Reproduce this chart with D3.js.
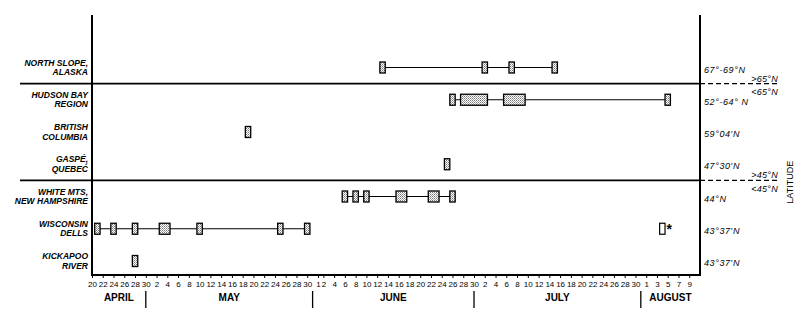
<!DOCTYPE html>
<html>
<head>
<meta charset="utf-8">
<script src="https://cdn.jsdelivr.net/npm/d3@7"></script>
<style>
  html, body { margin: 0; padding: 0; background: #fff; }
  svg { display: block; font-family: "Liberation Sans", Arial, sans-serif; }
</style>
</head>
<body>
<script>
// ---------------- DATA ----------------
const siteNames = [
  ["NORTH SLOPE,", "ALASKA"],
  ["HUDSON BAY", "REGION"],
  ["BRITISH", "COLUMBIA"],
  ["GASPÉ,", "QUEBEĆ"],
  ["WHITE MTS,", "NEW HAMPSHIRE"],
  ["WISCONSIN", "DELLS"],
  ["KICKAPOO", "RIVER"]
];
const latitudes = ["67°-69°N", "52°-64° N", "59°04′N", "47°30′N", "44°N", "43°37′N", "43°37′N"];

// observation periods [first day, last day] (month-day)
const northSlope      = [["06-13","06-13"],["07-02","07-02"],["07-07","07-07"],["07-15","07-15"]];
const hudsonBay       = [["06-26","06-26"],["06-28","07-02"],["07-06","07-09"],["08-05","08-05"]];
const britishColumbia = [["05-19","05-19"]];
const gaspeQuebec     = [["06-25","06-25"]];
const whiteMts        = [["06-06","06-06"],["06-08","06-08"],["06-10","06-10"],["06-16","06-17"],["06-22","06-23"],["06-26","06-26"]];
const wisconsinDells  = [["04-21","04-21"],["04-24","04-24"],["04-28","04-28"],["05-03","05-04"],["05-10","05-10"],["05-25","05-25"],["05-30","05-30"]];
const kickapooRiver   = [["04-28","04-28"]];
const siteRecords = [northSlope, hudsonBay, britishColumbia, gaspeQuebec, whiteMts, wisconsinDells, kickapooRiver];

// unshaded (doubtful) record, with its mark
const unshadedSite = [5];
const unshadedDate = ["08-04"];
const unshadedMark = ["*"];

// latitude dividers: after which row, and their labels
const dividerAfterRow = [0, 3];
const dividerAbove = [">65°N", ">45°N"];
const dividerBelow = ["<65°N", "<45°N"];

// axis tick labels
const monthNames   = ["APRIL", "MAY", "JUNE", "JULY", "AUGUST"];
const monthNumbers = [4, 5, 6, 7, 8];
const aprilDays  = [20, 22, 24, 26, 28, 30];
const mayDays    = [2, 4, 6, 8, 10, 12, 14, 16, 18, 20, 22, 24, 26, 28, 30];
const juneDays   = [1, 2, 4, 6, 8, 10, 12, 14, 16, 18, 20, 22, 24, 26, 28, 30];
const julyDays   = [2, 4, 6, 8, 10, 12, 14, 16, 18, 20, 22, 24, 26, 28, 30];
const augustDays = [1, 3, 5, 7, 9];
const domainStart = "04-20";
const domainEnd   = "08-11";

// ---------------- DRAW ----------------
const W = 800, H = 314;
const parse = d3.utcParse("%m-%d");
const svg = d3.select("body").append("svg").attr("width", W).attr("height", H);

const plotTop = 15, plotBottom = 275;
const x = d3.scaleUtc().domain([parse(domainStart), parse(domainEnd)]).range([92, 700]);
const y = d3.scalePoint().domain(d3.range(siteNames.length)).range([67.5, 261]);
const xl = x.range()[0], xr = x.range()[1];

const halfBefore = d => d3.utcHour.offset(parse(d), -12);
const halfAfter  = d => d3.utcHour.offset(parse(d), 12);

// stipple pattern
const defs = svg.append("defs");
const pat = defs.append("pattern").attr("id", "stipple")
  .attr("patternUnits", "userSpaceOnUse").attr("width", 2).attr("height", 2);
pat.append("rect").attr("width", 2).attr("height", 2).attr("fill", "#fff");
pat.append("rect").attr("width", 1).attr("height", 1).attr("fill", "#777");
pat.append("rect").attr("x", 1).attr("y", 1).attr("width", 1).attr("height", 1).attr("fill", "#aaa");

// frame
const frame = svg.append("g").attr("stroke", "#000").attr("stroke-width", 2);
frame.append("line").attr("x1", xl).attr("x2", xl).attr("y1", plotTop).attr("y2", plotBottom + 1);
frame.append("line").attr("x1", xr).attr("x2", xr).attr("y1", plotTop).attr("y2", plotBottom + 1);
frame.append("line").attr("x1", xl - 1).attr("x2", xr + 1).attr("y1", plotBottom).attr("y2", plotBottom);

// dividers
dividerAfterRow.forEach((r, i) => {
  const yy = (y(r) + y(r + 1)) / 2;
  svg.append("line").attr("x1", 20).attr("x2", xr).attr("y1", yy).attr("y2", yy)
    .attr("stroke", "#000").attr("stroke-width", 1.6);
  svg.append("line").attr("x1", xr).attr("x2", 778).attr("y1", yy).attr("y2", yy)
    .attr("stroke", "#000").attr("stroke-width", 1.3).attr("stroke-dasharray", "5,3");
  svg.append("text").attr("x", 778).attr("y", yy - 2).attr("text-anchor", "end")
    .attr("font-size", 9).attr("font-style", "italic").attr("letter-spacing", 0.3).text(dividerAbove[i]);
  svg.append("text").attr("x", 778).attr("y", yy + 11.5).attr("text-anchor", "end")
    .attr("font-size", 9).attr("font-style", "italic").attr("letter-spacing", 0.3).text(dividerBelow[i]);
});

// site labels (left)
siteNames.forEach((lines, i) => {
  const t = svg.append("text").attr("text-anchor", "end")
    .attr("font-size", 8.5).attr("font-style", "italic").attr("font-weight", "bold");
  t.append("tspan").attr("x", 88).attr("y", y(i) - 2).text(lines[0]);
  t.append("tspan").attr("x", 88).attr("y", y(i) + 7.5).text(lines[1]);
});

// latitudes (right)
latitudes.forEach((lab, i) => {
  svg.append("text").attr("x", 704).attr("y", y(i) + 5)
    .attr("font-size", 9).attr("font-style", "italic").attr("letter-spacing", 0.6).text(lab);
});

svg.append("text")
  .attr("transform", `translate(790,${(y(0) + y(siteNames.length - 1)) / 2 + 18}) rotate(-90)`)
  .attr("text-anchor", "middle").attr("dominant-baseline", "central")
  .attr("font-size", 9).text("LATITUDE");

// connecting lines
siteRecords.forEach((recs, i) => {
  if (recs.length < 2) return;
  const first = recs[0], last = recs[recs.length - 1];
  const c = r => (x(halfBefore(r[0])) + x(halfAfter(r[1]))) / 2;
  svg.append("line").attr("x1", c(first)).attr("x2", c(last))
    .attr("y1", y(i)).attr("y2", y(i)).attr("stroke", "#000").attr("stroke-width", 1.2);
});

// boxes
const boxH = 11;
siteRecords.forEach((recs, i) => {
  svg.append("g").selectAll("rect").data(recs).join("rect")
    .attr("x", r => x(halfBefore(r[0])))
    .attr("width", r => x(halfAfter(r[1])) - x(halfBefore(r[0])))
    .attr("y", y(i) - boxH / 2).attr("height", boxH)
    .attr("fill", "url(#stipple)").attr("stroke", "#000").attr("stroke-width", 1.3);
});

// unshaded record
unshadedSite.forEach((s, k) => {
  const x0 = x(halfBefore(unshadedDate[k])), x1 = x(halfAfter(unshadedDate[k]));
  svg.append("rect").attr("x", x0).attr("width", x1 - x0)
    .attr("y", y(s) - boxH / 2).attr("height", boxH)
    .attr("fill", "#fff").attr("stroke", "#000").attr("stroke-width", 1.2);
  svg.append("text").attr("x", x1 + 1.5).attr("y", y(s) + 5)
    .attr("font-size", 14).attr("font-weight", "bold").text(unshadedMark[k]);
});

// bottom axis
const dayLists = [aprilDays, mayDays, juneDays, julyDays, augustDays];
const tickDates = [];
dayLists.forEach((days, m) => days.forEach(d => tickDates.push(new Date(Date.UTC(1900, monthNumbers[m] - 1, d)))));

const axis = d3.axisBottom(x).tickValues(tickDates).tickFormat(d3.utcFormat("%-d"))
  .tickSize(3).tickPadding(3.5).tickSizeOuter(0);
const ag = svg.append("g").attr("transform", `translate(0,${plotBottom})`).call(axis);
ag.select(".domain").remove();
ag.attr("font-family", null).attr("font-size", null);
ag.selectAll(".tick line").attr("stroke", "#000").attr("stroke-width", 1);
ag.selectAll(".tick text").attr("font-size", 8).attr("fill", "#000");

// month separators & labels
const seps = monthNumbers.slice(0, -1).map(m => x(d3.utcDay.offset(new Date(Date.UTC(1900, m, 1)), -1)));
seps.forEach(sx => {
  svg.append("line").attr("x1", sx).attr("x2", sx).attr("y1", 291).attr("y2", 308)
    .attr("stroke", "#000").attr("stroke-width", 1.3);
});
const bounds = [xl, ...seps, xr];
monthNames.forEach((name, i) => {
  svg.append("text").attr("x", (bounds[i] + bounds[i + 1]) / 2).attr("y", 300.5)
    .attr("text-anchor", "middle").attr("font-size", 10).attr("font-weight", "bold").text(name);
});
</script>
</body>
</html>
